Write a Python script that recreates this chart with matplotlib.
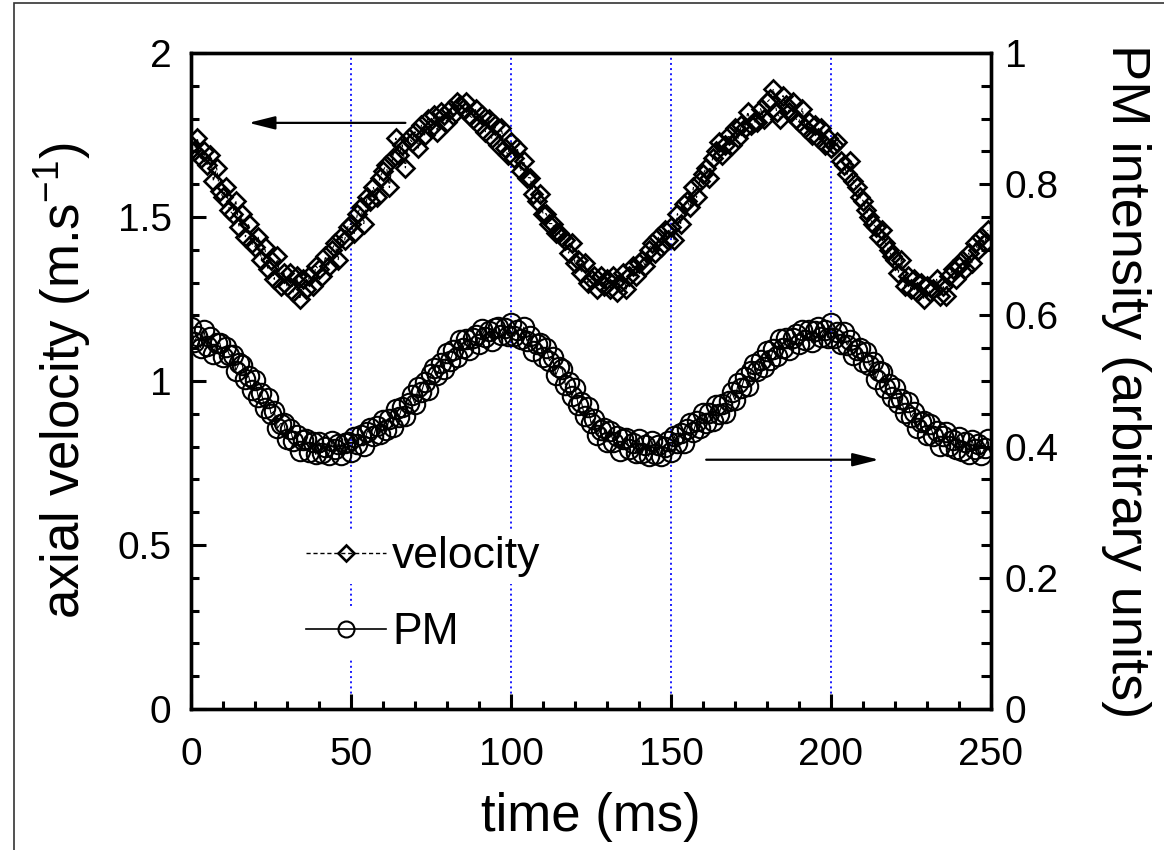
"""Axial velocity and PM intensity versus time, two y axes."""

import matplotlib

matplotlib.use("Agg")
import numpy as np
from matplotlib import pyplot as plt
from matplotlib.patches import Rectangle
from matplotlib.ticker import MultipleLocator

plt.rcParams["font.family"] = ["Liberation Sans", "DejaVu Sans"]

time_ms = np.arange(0, 250)

# axial velocity (m/s), left axis
velocity = [
    1.72, 1.70, 1.74, 1.68, 1.70, 1.66, 1.69, 1.61, 1.65, 1.58,
    1.56, 1.59, 1.52, 1.51, 1.55, 1.47, 1.51, 1.44, 1.48, 1.42,
    1.41, 1.44, 1.37, 1.41, 1.34, 1.37, 1.31, 1.38, 1.29, 1.33,
    1.29, 1.33, 1.27, 1.32, 1.25, 1.31, 1.28, 1.32, 1.29, 1.35,
    1.34, 1.32, 1.38, 1.35, 1.40, 1.42, 1.37, 1.44, 1.43, 1.47,
    1.48, 1.45, 1.51, 1.53, 1.48, 1.56, 1.55, 1.59, 1.56, 1.62,
    1.64, 1.66, 1.59, 1.68, 1.74, 1.69, 1.72, 1.65, 1.74, 1.73,
    1.76, 1.71, 1.78, 1.75, 1.80, 1.77, 1.81, 1.76, 1.82, 1.81,
    1.79, 1.83, 1.81, 1.85, 1.84, 1.83, 1.85, 1.81, 1.80, 1.83,
    1.78, 1.81, 1.76, 1.80, 1.74, 1.78, 1.72, 1.77, 1.71, 1.69,
    1.73, 1.68, 1.71, 1.64, 1.67, 1.62, 1.62, 1.57, 1.55, 1.57,
    1.51, 1.51, 1.48, 1.48, 1.45, 1.45, 1.44, 1.43, 1.39, 1.42,
    1.36, 1.37, 1.33, 1.36, 1.30, 1.31, 1.32, 1.28, 1.32, 1.29,
    1.31, 1.28, 1.32, 1.27, 1.30, 1.33, 1.28, 1.32, 1.35, 1.32,
    1.36, 1.37, 1.35, 1.40, 1.42, 1.39, 1.44, 1.41, 1.46, 1.43,
    1.47, 1.43, 1.51, 1.48, 1.54, 1.55, 1.53, 1.59, 1.56, 1.61,
    1.63, 1.65, 1.62, 1.68, 1.70, 1.73, 1.69, 1.72, 1.75, 1.72,
    1.77, 1.74, 1.78, 1.77, 1.82, 1.78, 1.79, 1.79, 1.83, 1.80,
    1.85, 1.86, 1.89, 1.82, 1.80, 1.87, 1.84, 1.82, 1.85, 1.80,
    1.79, 1.83, 1.77, 1.79, 1.75, 1.78, 1.74, 1.77, 1.72, 1.74,
    1.71, 1.72, 1.73, 1.67, 1.66, 1.63, 1.67, 1.61, 1.59, 1.56,
    1.55, 1.52, 1.50, 1.48, 1.47, 1.44, 1.46, 1.42, 1.40, 1.38,
    1.37, 1.33, 1.37, 1.29, 1.32, 1.28, 1.31, 1.27, 1.30, 1.25,
    1.29, 1.27, 1.28, 1.31, 1.26, 1.29, 1.26, 1.32, 1.34, 1.31,
    1.35, 1.37, 1.34, 1.39, 1.36, 1.42, 1.40, 1.44, 1.42, 1.46,
]

# PM intensity (arbitrary units), right axis
pm_intensity = [
    0.582, 0.560, 0.569, 0.551, 0.578, 0.553, 0.567, 0.541, 0.558, 0.558,
    0.537, 0.552, 0.540, 0.540, 0.516, 0.527, 0.525, 0.503, 0.508, 0.487,
    0.501, 0.476, 0.482, 0.459, 0.474, 0.450, 0.454, 0.428, 0.435, 0.436,
    0.412, 0.427, 0.409, 0.417, 0.393, 0.410, 0.411, 0.392, 0.407, 0.388,
    0.407, 0.391, 0.399, 0.387, 0.408, 0.396, 0.404, 0.387, 0.405, 0.407,
    0.392, 0.415, 0.404, 0.418, 0.401, 0.422, 0.429, 0.416, 0.431, 0.419,
    0.441, 0.426, 0.442, 0.430, 0.458, 0.445, 0.461, 0.447, 0.466, 0.478,
    0.465, 0.491, 0.483, 0.499, 0.486, 0.510, 0.520, 0.509, 0.527, 0.518,
    0.543, 0.530, 0.547, 0.536, 0.563, 0.550, 0.564, 0.548, 0.565, 0.570,
    0.557, 0.579, 0.567, 0.576, 0.561, 0.581, 0.582, 0.570, 0.581, 0.569,
    0.588, 0.568, 0.577, 0.564, 0.582, 0.561, 0.569, 0.546, 0.556, 0.558,
    0.536, 0.551, 0.531, 0.536, 0.509, 0.521, 0.518, 0.494, 0.499, 0.477,
    0.490, 0.464, 0.468, 0.446, 0.461, 0.436, 0.442, 0.417, 0.426, 0.428,
    0.407, 0.424, 0.407, 0.416, 0.394, 0.411, 0.413, 0.397, 0.406, 0.390,
    0.411, 0.390, 0.403, 0.385, 0.409, 0.388, 0.402, 0.386, 0.399, 0.408,
    0.392, 0.416, 0.406, 0.421, 0.405, 0.427, 0.436, 0.423, 0.439, 0.428,
    0.451, 0.436, 0.451, 0.439, 0.464, 0.450, 0.465, 0.451, 0.470, 0.483,
    0.471, 0.497, 0.489, 0.506, 0.492, 0.516, 0.526, 0.515, 0.532, 0.522,
    0.546, 0.532, 0.549, 0.538, 0.564, 0.550, 0.565, 0.548, 0.565, 0.571,
    0.556, 0.578, 0.563, 0.577, 0.559, 0.576, 0.582, 0.567, 0.578, 0.566,
    0.588, 0.566, 0.575, 0.556, 0.575, 0.555, 0.562, 0.539, 0.548, 0.550,
    0.529, 0.544, 0.524, 0.529, 0.503, 0.515, 0.513, 0.490, 0.496, 0.476,
    0.490, 0.466, 0.472, 0.451, 0.468, 0.445, 0.452, 0.428, 0.437, 0.439,
    0.417, 0.434, 0.416, 0.424, 0.401, 0.416, 0.422, 0.401, 0.410, 0.396,
    0.414, 0.393, 0.407, 0.389, 0.410, 0.396, 0.404, 0.387, 0.398, 0.411,
]

period_marks = [50, 100, 150, 200]

fig = plt.figure(figsize=(11.64, 8.5), dpi=100)
fig.patch.set_facecolor("white")
# thin outer frame (top and left edges visible in the reference)
fig.patches.append(
    Rectangle((14 / 1164, -0.1), 1.2, 1.1 - 3 / 850, transform=fig.transFigure,
              fill=False, edgecolor="#333333", linewidth=1.2)
)

ax = fig.add_axes([191 / 1164, 1 - 709 / 850, 800 / 1164, 656 / 850])
ax2 = ax.twinx()

for t in period_marks:
    ax.axvline(t, color="#1a1aff", linestyle=":", linewidth=1.4, zorder=1)

ax.plot(time_ms, velocity, linestyle=(0, (3, 2)), color="black", linewidth=0.8,
        marker="D", markersize=9.5, markerfacecolor="none", markeredgecolor="black",
        markeredgewidth=1.9, zorder=3)
ax2.plot(time_ms, pm_intensity, linestyle="-", color="black", linewidth=0.8,
         marker="o", markersize=14, markerfacecolor="none", markeredgecolor="black",
         markeredgewidth=1.5, zorder=3)

ax.set_xlim(0, 250)
ax.set_ylim(0, 2)
ax2.set_ylim(0, 1)

ax.xaxis.set_major_locator(MultipleLocator(50))
ax.xaxis.set_minor_locator(MultipleLocator(10))
ax.yaxis.set_major_locator(MultipleLocator(0.5))
ax.yaxis.set_minor_locator(MultipleLocator(0.1))
ax2.yaxis.set_major_locator(MultipleLocator(0.2))
ax2.yaxis.set_minor_locator(MultipleLocator(0.05))

ax.yaxis.set_major_formatter(plt.FuncFormatter(lambda v, _: f"{v:g}"))
ax2.yaxis.set_major_formatter(plt.FuncFormatter(lambda v, _: f"{v:g}"))

for axis in (ax, ax2):
    for spine in axis.spines.values():
        spine.set_linewidth(2.4)
ax.tick_params(axis="x", which="major", pad=20)
ax.tick_params(axis="y", which="major", pad=14)
ax.tick_params(axis="both", which="major", direction="in", length=11, width=2.2,
               labelsize=28, top=False, right=False)
ax.tick_params(axis="both", which="minor", direction="in", length=6, width=2.2,
               top=False, right=False)
ax2.tick_params(axis="y", which="major", direction="in", length=9, width=2.2,
                labelsize=28, pad=10)
ax2.tick_params(axis="y", which="minor", direction="in", length=7, width=2.2)

ax.set_xlabel("time (ms)", fontsize=38, labelpad=14)
ax.set_ylabel("axial velocity (m.s$^{\\mathregular{-1}}$)", fontsize=38, labelpad=18)
ax2.set_ylabel("PM intensity (arbitrary units)", fontsize=39, rotation=270, labelpad=66)

ax.annotate("", xy=(18, 1.787), xytext=(67, 1.787),
            arrowprops=dict(arrowstyle="-|>,head_length=1.6,head_width=0.4",
                            color="black", linewidth=1.6, shrinkA=0, shrinkB=0))
ax.annotate("", xy=(215, 0.76), xytext=(161, 0.76),
            arrowprops=dict(arrowstyle="-|>,head_length=1.6,head_width=0.4",
                            color="black", linewidth=1.6, shrinkA=0, shrinkB=0))

# two separate legend boxes so each only blanks its own row
vel_handle = plt.Line2D([], [], linestyle=(0, (3, 2)), color="black", linewidth=1.0,
                        marker="D", markersize=8, markerfacecolor="none",
                        markeredgecolor="black", markeredgewidth=1.9)
pm_handle = plt.Line2D([], [], linestyle="-", color="black", linewidth=1.2,
                       marker="o", markersize=11.5, markerfacecolor="none",
                       markeredgecolor="black", markeredgewidth=1.5)
legend_style = dict(loc="center left", fontsize=32, handlelength=1.8, handletextpad=0.15,
                    borderpad=0.15, borderaxespad=0, framealpha=1, fancybox=False)
leg1 = ax2.legend([vel_handle], ["velocity"], bbox_to_anchor=(0.135, 0.232), **legend_style)
leg1.get_frame().set_edgecolor("none")
ax2.add_artist(leg1)
leg2 = ax2.legend([pm_handle], ["PM"], bbox_to_anchor=(0.135, 0.116), **legend_style)
leg2.get_frame().set_edgecolor("none")

fig.savefig("out.png", dpi=100)
